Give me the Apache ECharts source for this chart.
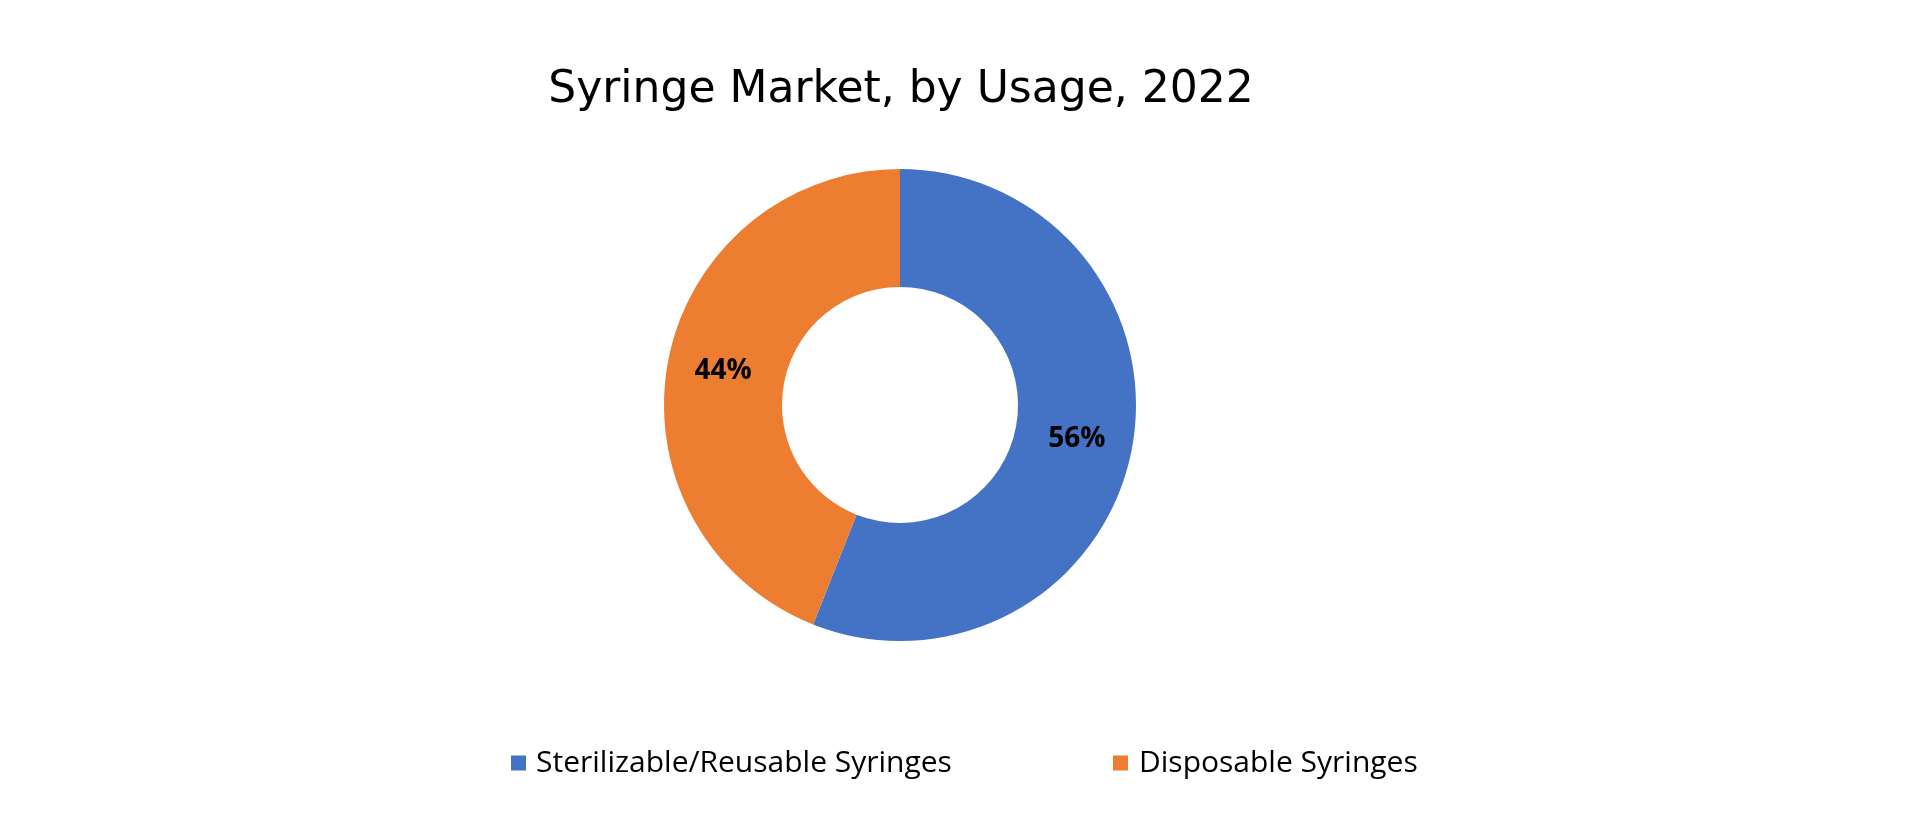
<!DOCTYPE html>
<html>
<head>
<meta charset="utf-8">
<script src="https://cdn.jsdelivr.net/npm/echarts@6/dist/echarts.min.js"></script>
<style>
html,body{margin:0;padding:0;background:#fff;}
#chart{width:1920px;height:818px;}
</style>
</head>
<body>
<div id="chart"></div>
<script>
const titleText = 'Syringe Market, by Usage, 2022';
const categories = ['Sterilizable/Reusable Syringes', 'Disposable Syringes'];
const values = [56, 44];
const colors = ['#4472C4', '#ED7D31'];

const chart = echarts.init(document.getElementById('chart'));
chart.setOption({
  backgroundColor: '#ffffff',
  animation: false,
  title: {
    text: titleText,
    left: 896,
    textAlign: 'center',
    top: 64,
    textStyle: {fontFamily: 'DejaVu Sans', fontWeight: 'normal', fontSize: 44, color: '#000'}
  },
  legend: [
    {
      data: [categories[0]], left: 506, top: 743, orient: 'horizontal',
      itemWidth: 15, itemHeight: 15, icon: 'rect',
      textStyle: {fontFamily: 'Open Sans', fontSize: 30, color: '#000', padding: [0, 0, 0, 5]}
    },
    {
      data: [categories[1]], left: 1108, top: 743, orient: 'horizontal',
      itemWidth: 15, itemHeight: 15, icon: 'rect',
      textStyle: {fontFamily: 'Open Sans', fontSize: 30, color: '#000', padding: [0, 0, 0, 6]}
    }
  ],
  series: [{
    type: 'pie',
    center: [900, 405],
    radius: [118, 236],
    startAngle: 90,
    clockwise: true,
    avoidLabelOverlap: false,
    label: {
      show: true,
      position: 'inside',
      formatter: '{c}%',
      fontFamily: 'Open Sans',
      fontWeight: 'bold',
      fontSize: 28,
      color: '#000'
    },
    labelLine: {show: false},
    emphasis: {disabled: true},
    data: categories.map((c, i) => ({name: c, value: values[i], itemStyle: {color: colors[i]}}))
  }]
});
</script>
</body>
</html>
